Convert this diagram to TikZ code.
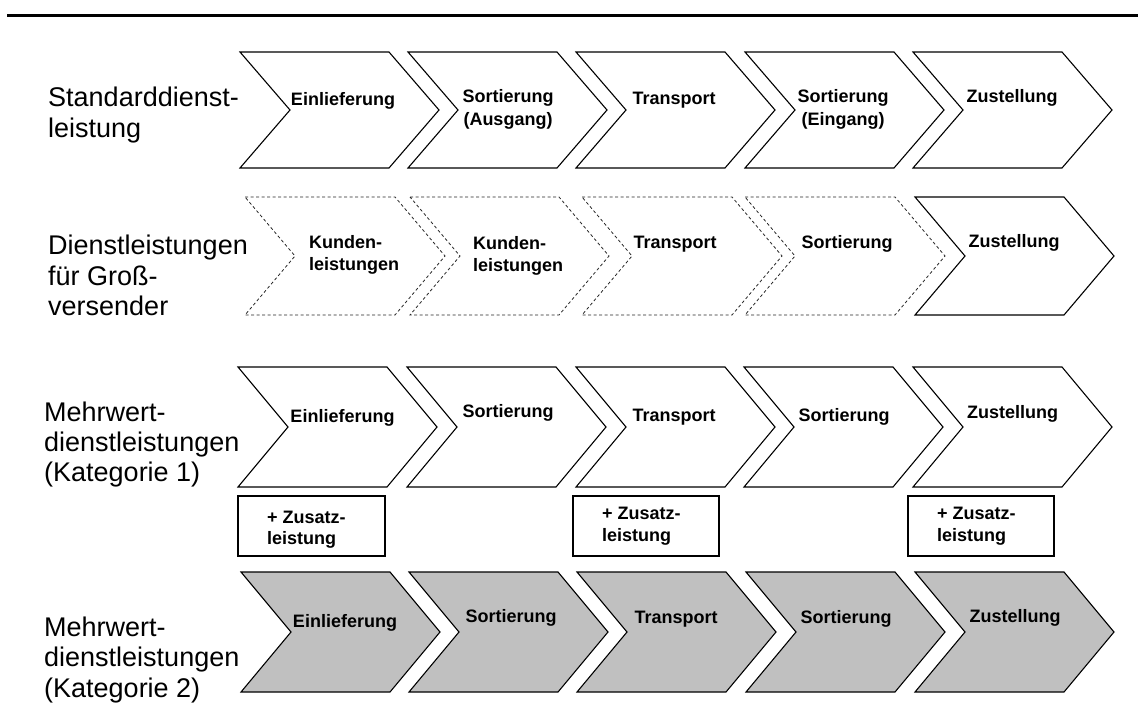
\documentclass[tikz,border=0pt]{standalone}
\usepackage{fontspec}
\setmainfont{Liberation Sans}
\definecolor{greyfill}{RGB}{192,192,192}
\tikzset{
  chev/.style={draw=black, line width=1.1pt, line join=miter, fill=white},
  chevdash/.style={draw=black!85, line width=0.8pt, dash pattern=on 3pt off 2.5pt},
  chevgrey/.style={chev, fill=greyfill},
  lbl/.style={inner sep=0pt, anchor=base west, font=\fontsize{27}{31}\selectfont},
  ct/.style={inner sep=0pt, anchor=base, font=\fontsize{18}{21.6}\selectfont\bfseries},
  ctl/.style={inner sep=0pt, anchor=base west, font=\fontsize{18}{21.6}\selectfont\bfseries},
  addbox/.style={draw=black, line width=1.1pt}
}
% style, x0, ytop, ybot, top width
\newcommand\chevA[5]{%
  \draw[#1] ({#2},{#3}) -- ({#2+#5},{#3}) -- ({#2+#5+50},{(#3+#4)/2}) -- ({#2+#5},{#4}) -- ({#2},{#4}) -- ({#2+50},{(#3+#4)/2}) -- cycle;}
\begin{document}
\begin{tikzpicture}[x=1pt,y=-1pt]
\useasboundingbox (0,0) rectangle (1138,720);
\draw[line width=3pt] (7,15) -- (1138,15);

% ---------- Row 1 ----------
\chevA{chev}{240}{52}{168}{149}
\chevA{chev}{408}{52}{168}{149}
\chevA{chev}{576}{52}{168}{149}
\chevA{chev}{745}{52}{168}{149}
\chevA{chev}{913}{52}{168}{149}
\node[lbl] (l1a) at (48,106) {Standarddienst-};
\node[lbl] (l1b) at (48,137) {leistung};
\node[ct] (r1a) at (343,105) {Einlieferung};
\node[ct] (r1b1) at (508,102) {Sortierung};
\node[ct] (r1b2) at (508,125) {(Ausgang)};
\node[ct] (r1c) at (674,104) {Transport};
\node[ct] (r1d1) at (843,102) {Sortierung};
\node[ct] (r1d2) at (843,125) {(Eingang)};
\node[ct] (r1e) at (1012,102) {Zustellung};

% ---------- Row 2 ----------
\chevA{chevdash}{245}{197}{315}{150}
\chevA{chevdash}{410}{197}{315}{149}
\chevA{chevdash}{582}{197}{315}{150}
\chevA{chevdash}{745}{197}{315}{150}
\chevA{chev}{915}{197}{315}{149}
\node[lbl] (l2a) at (48,254) {Dienstleistungen};
\node[lbl] (l2b) at (48,285) {für Groß-};
\node[lbl] (l2c) at (48,315) {versender};
\node[ctl] (r2a1) at (309,248) {Kunden-};
\node[ctl] (r2a2) at (309,270) {leistungen};
\node[ctl] (r2b1) at (473,249) {Kunden-};
\node[ctl] (r2b2) at (473,271) {leistungen};
\node[ct] (r2c) at (675,248) {Transport};
\node[ct] (r2d) at (847,248) {Sortierung};
\node[ct] (r2e) at (1014,247) {Zustellung};

% ---------- Row 3 ----------
\chevA{chev}{238}{367}{487}{149}
\chevA{chev}{407}{367}{487}{149}
\chevA{chev}{576}{367}{487}{149}
\chevA{chev}{744}{367}{487}{149}
\chevA{chev}{913}{367}{487}{149}
\node[lbl] (l3a) at (44,421) {Mehrwert-};
\node[lbl] (l3b) at (44,451) {dienstleistungen};
\node[lbl] (l3c) at (44,481) {(Kategorie 1)};
\node[ct] (r3a) at (342.5,422) {Einlieferung};
\node[ct] (r3b) at (508,417) {Sortierung};
\node[ct] (r3c) at (674,421) {Transport};
\node[ct] (r3d) at (844,421) {Sortierung};
\node[ct] (r3e) at (1012.5,418) {Zustellung};

\draw[addbox] (238,496) rectangle (385,556);
\draw[addbox] (573,496) rectangle (719,556);
\draw[addbox] (908,496) rectangle (1054,556);
\node[ctl] (z1a) at (267,523) {+ Zusatz-};
\node[ctl] (z1b) at (267,544) {leistung};
\node[ctl] (z2a) at (602,519) {+ Zusatz-};
\node[ctl] (z2b) at (602,541) {leistung};
\node[ctl] (z3a) at (937,519) {+ Zusatz-};
\node[ctl] (z3b) at (937,541) {leistung};

% ---------- Row 4 ----------
\chevA{chevgrey}{241}{572}{692}{149}
\chevA{chevgrey}{409}{572}{692}{149}
\chevA{chevgrey}{577}{572}{692}{149}
\chevA{chevgrey}{746}{572}{692}{149}
\chevA{chevgrey}{915}{572}{692}{149}
\node[lbl] (l4a) at (44,636) {Mehrwert-};
\node[lbl] (l4b) at (44,666) {dienstleistungen};
\node[lbl] (l4c) at (44,697) {(Kategorie 2)};
\node[ct] (r4a) at (345,627) {Einlieferung};
\node[ct] (r4b) at (511,622) {Sortierung};
\node[ct] (r4c) at (676,623) {Transport};
\node[ct] (r4d) at (846,623) {Sortierung};
\node[ct] (r4e) at (1015,622) {Zustellung};
\end{tikzpicture}
\end{document}
